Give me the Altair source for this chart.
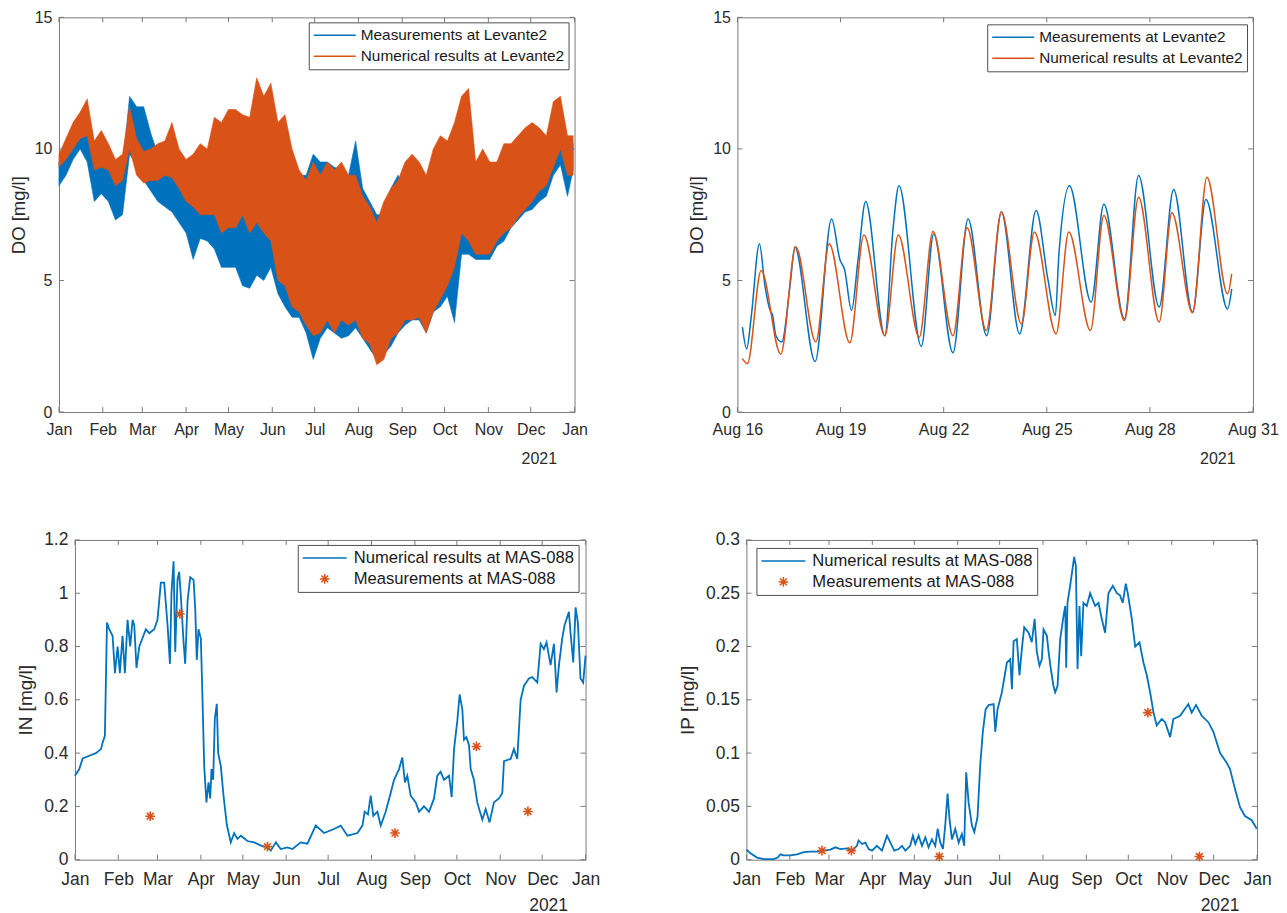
import altair as alt
import pandas as pd

BLUE = "#0072BD"
ORANGE = "#D95319"
FRAME = "#7a7a7a"
TXT = "#2b2b2b"
FONT = "Liberation Sans"

# ---------------- Panel 1: DO over the year (daily envelopes read every 5 days) ----------------
DO_YEAR_DAYS = [0, 5, 10, 15, 20, 25, 30, 35, 40, 45, 50, 55, 60, 65, 70, 75, 80, 85, 90, 95,
                100, 105, 110, 115, 120, 125, 130, 135, 140, 145, 150, 155, 160, 165, 170, 175,
                180, 185, 190, 195, 200, 205, 210, 215, 220, 225, 230, 235, 240, 245, 250, 255,
                260, 265, 270, 275, 280, 285, 290, 295, 300, 305, 310, 315, 320, 325, 330, 335,
                340, 345, 350, 355, 360, 364]
DO_NUM_LO = [9.3, 9.6, 10.0, 10.4, 10.5, 9.2, 9.3, 9.2, 8.6, 8.8, 10.0, 9.0, 8.7, 8.8, 8.8, 9.0,
             8.9, 8.5, 8.0, 7.8, 7.5, 7.5, 7.5, 6.8, 7.0, 7.0, 7.5, 6.8, 7.2, 6.8, 6.5, 5.0, 4.8,
             4.0, 3.8, 3.3, 2.9, 3.0, 3.5, 3.0, 3.5, 3.3, 3.5, 2.8, 2.6, 1.8, 2.0, 2.8, 3.0, 3.5,
             3.5, 3.6, 3.0, 3.8, 4.3, 4.8, 5.5, 6.8, 6.5, 6.0, 6.0, 6.0, 6.5, 6.8, 7.0, 7.4, 7.7,
             8.0, 8.4, 8.6, 9.3, 10.0, 9.0, 9.0]
DO_NUM_HI = [9.8, 10.4, 11.0, 11.4, 11.9, 10.3, 10.7, 10.2, 9.6, 9.8, 11.6, 10.4, 9.9, 10.0, 10.2,
             10.3, 11.0, 10.0, 9.6, 9.8, 10.2, 10.0, 11.2, 11.0, 11.5, 11.5, 11.3, 11.2, 12.7, 12.0,
             12.5, 11.0, 11.3, 10.0, 9.2, 8.8, 9.5, 9.0, 9.5, 9.2, 9.5, 9.0, 9.0, 8.2, 7.8, 7.2,
             8.0, 8.5, 8.8, 9.5, 9.8, 9.5, 9.0, 10.0, 10.5, 10.3, 11.0, 12.0, 12.3, 9.5, 10.0, 9.5,
             9.5, 10.2, 10.2, 10.5, 10.8, 11.0, 10.8, 10.5, 11.8, 12.0, 10.5, 10.5]
DO_MEAS_LO = [8.6, 9.0, 9.6, 10.0, 9.5, 8.0, 8.3, 8.0, 7.3, 7.5, 9.8, 9.4, 8.8, 8.4, 8.0, 7.8, 7.6,
              7.2, 6.8, 5.8, 6.6, 6.5, 6.2, 5.5, 5.5, 5.5, 4.8, 4.7, 5.2, 5.0, 5.5, 4.5, 4.0, 3.6,
              3.6, 3.0, 2.0, 2.8, 3.2, 3.0, 2.8, 2.9, 3.2, 2.8, 2.4, 2.0, 2.2, 2.5, 3.0, 3.3, 3.5,
              3.5, 3.0, 3.8, 4.0, 4.4, 3.4, 6.0, 6.0, 5.8, 5.8, 5.8, 6.3, 6.5, 7.0, 7.3, 7.6, 7.7,
              8.0, 8.2, 9.0, 9.4, 8.2, 9.2]
DO_MEAS_HI = [9.5, 9.8, 10.3, 10.7, 11.0, 9.5, 9.9, 9.6, 8.6, 9.3, 12.0, 11.6, 11.6, 10.6, 9.8,
              10.3, 9.5, 9.0, 8.4, 8.0, 8.2, 8.0, 8.0, 7.5, 7.2, 7.0, 7.5, 7.0, 7.5, 7.5, 7.5, 7.0,
              9.0, 9.0, 9.0, 9.0, 9.8, 9.5, 9.5, 9.3, 9.2, 9.0, 10.3, 8.5, 8.0, 7.5, 7.5, 8.5, 9.0,
              8.5, 9.0, 8.8, 8.0, 8.5, 9.0, 9.0, 9.0, 10.0, 10.3, 8.0, 8.5, 8.0, 8.5, 8.5, 8.5,
              8.5, 9.0, 9.0, 9.0, 9.5, 11.0, 11.3, 9.6, 10.2]

# ---------------- Panel 2: DO, Aug 16 - Aug 30 (day offsets from Aug 16) ----------------
AUG_MEAS_DAYS = [0.145, 0.27, 0.40, 0.64, 0.80, 0.95, 1.02, 1.12, 1.29, 1.53, 1.67, 2.26, 2.74,
                 2.98, 3.12, 3.32, 3.51, 3.73, 4.29, 4.53, 4.70, 5.35, 5.71, 6.27, 6.71, 7.25,
                 7.68, 8.21, 8.69, 9.03, 9.25, 9.35, 9.66, 10.29, 10.66, 11.26, 11.67, 12.27,
                 12.69, 13.24, 13.63, 14.26, 14.38]
AUG_MEAS_DO = [3.23, 2.4, 3.6, 6.4, 4.8, 3.86, 3.7, 2.9, 2.66, 4.8, 6.27, 1.92, 7.34, 5.8, 5.4,
               3.86, 5.8, 8.0, 2.9, 7.0, 8.6, 2.5, 6.77, 2.25, 7.34, 2.9, 7.6, 2.97, 7.66, 5.06,
               3.67, 5.95, 8.6, 4.18, 7.9, 3.54, 8.99, 3.99, 8.46, 3.8, 8.08, 3.92, 4.68]
AUG_NUM_DAYS = [0.145, 0.29, 0.69, 1.26, 1.70, 2.28, 2.67, 3.27, 3.68, 4.29, 4.68, 5.29, 5.69,
                6.27, 6.68, 7.24, 7.68, 8.26, 8.64, 9.27, 9.64, 10.27, 10.66, 11.26, 11.67,
                12.27, 12.64, 13.24, 13.66, 14.26, 14.38]
AUG_NUM_DO = [2.03, 1.84, 5.38, 2.2, 6.27, 2.66, 6.4, 2.63, 6.73, 2.9, 6.73, 2.85, 6.86, 2.9, 7.0,
              3.1, 7.6, 3.35, 6.84, 2.97, 6.84, 3.1, 7.47, 3.48, 8.16, 3.42, 7.57, 3.77, 8.92,
              4.49, 5.25]

# ---------------- Panel 3: IN at MAS-088 ----------------
IN_DAYS = [0.0, 3.1, 5.5, 10.2, 15.0, 18.6, 19.8, 21.4, 22.9, 24.5, 26.9, 28.6, 30.5, 32.1, 34.0,
           35.7, 37.6, 39.5, 41.2, 42.4, 44.0, 46.0, 50.7, 53.1, 56.7, 59.0, 61.4, 63.8, 66.2,
           67.9, 69.0, 70.5, 71.7, 73.3, 74.5, 75.7, 77.6, 78.8, 80.5, 82.4, 84.8, 86.0, 87.1,
           88.3, 90.0, 91.2, 92.4, 94.0, 95.5, 96.7, 97.6, 98.8, 100.0, 101.4, 102.4, 104.3,
           106.2, 108.6, 111.4, 113.8, 116.2, 118.6, 123.3, 128.1, 132.9, 137.6, 140.0, 143.6,
           147.1, 151.9, 155.5, 161.4, 166.2, 172.1, 178.1, 185.2, 190.0, 194.8, 202.0, 205.5,
           207.1, 209.5, 211.4, 213.3, 216.2, 218.6, 222.1, 225.7, 228.1, 231.7, 234.0, 235.9,
           237.6, 240.0, 243.6, 246.0, 249.5, 253.1, 256.7, 259.0, 261.4, 263.8, 267.4, 269.3,
           271.0, 273.3, 275.0, 276.9, 278.1, 279.8, 281.7, 282.9, 285.2, 287.6, 291.2, 293.6,
           296.4, 299.5, 303.1, 305.5, 306.7, 311.4, 313.8, 316.2, 318.6, 321.0, 324.5, 326.9,
           330.5, 332.9, 335.2, 337.1, 340.0, 342.4, 344.3, 346.0, 348.3, 350.0, 353.1, 354.3,
           356.2, 357.9, 359.5, 361.4, 363.3, 365.0]
IN_VALUES = [0.315, 0.34, 0.38, 0.39, 0.40, 0.415, 0.44, 0.465, 0.89, 0.865, 0.84, 0.70, 0.80,
             0.70, 0.84, 0.70, 0.90, 0.80, 0.90, 0.88, 0.72, 0.80, 0.865, 0.85, 0.865, 0.90, 1.04,
             1.04, 0.88, 0.735, 1.0, 1.12, 0.78, 1.05, 1.08, 0.99, 0.82, 0.735, 0.97, 1.06, 1.05,
             0.94, 0.75, 0.865, 0.83, 0.60, 0.35, 0.215, 0.29, 0.23, 0.34, 0.30, 0.53, 0.585,
             0.40, 0.35, 0.24, 0.13, 0.065, 0.10, 0.078, 0.09, 0.07, 0.065, 0.053, 0.046, 0.034,
             0.065, 0.04, 0.046, 0.04, 0.065, 0.06, 0.128, 0.10, 0.115, 0.128, 0.09, 0.10, 0.128,
             0.18, 0.17, 0.24, 0.165, 0.18, 0.128, 0.18, 0.25, 0.30, 0.34, 0.384, 0.29, 0.315,
             0.24, 0.215, 0.18, 0.20, 0.18, 0.23, 0.315, 0.33, 0.30, 0.315, 0.235, 0.415, 0.52,
             0.62, 0.565, 0.45, 0.46, 0.43, 0.34, 0.30, 0.215, 0.15, 0.19, 0.14, 0.215, 0.23,
             0.25, 0.37, 0.378, 0.415, 0.378, 0.60, 0.653, 0.68, 0.685, 0.665, 0.81, 0.79, 0.816,
             0.73, 0.81, 0.628, 0.73, 0.83, 0.88, 0.93, 0.85, 0.74, 0.947, 0.89, 0.68, 0.665,
             0.766]
IN_MEAS_DAYS = [53.8, 75.0, 137.6, 228.8, 287.0, 323.8]
IN_MEAS_VALUES = [0.163, 0.922, 0.049, 0.10, 0.425, 0.181]

# ---------------- Panel 4: IP at MAS-088 ----------------
IP_DAYS = [0.0, 2.9, 7.6, 12.4, 19.5, 22.4, 24.3, 26.7, 31.4, 36.2, 41.0, 45.7, 50.5, 55.2, 60.0,
           63.6, 67.1, 71.9, 75.5, 79.0, 80.2, 82.6, 85.0, 87.4, 89.8, 93.3, 96.9, 100.5, 102.9,
           105.7, 108.8, 111.2, 113.6, 117.1, 119.0, 120.7, 123.1, 125.5, 127.9, 130.2, 132.6,
           135.0, 136.7, 138.6, 140.5, 142.1, 143.8, 145.2, 146.9, 149.3, 151.7, 154.0, 155.7,
           157.1, 158.8, 161.2, 162.9, 165.2, 167.1, 169.0, 171.0, 173.1, 176.7, 177.9, 179.5,
           182.6, 186.2, 188.6, 189.8, 191.0, 193.3, 195.2, 196.9, 198.6, 201.7, 204.0, 206.0,
           207.6, 209.5, 211.2, 212.4, 214.8, 216.0, 217.6, 219.5, 220.7, 222.4, 224.3, 226.7,
           227.9, 228.6, 229.5, 231.4, 234.3, 235.5, 236.7, 238.1, 239.3, 240.9, 243.3, 245.7,
           249.3, 251.7, 254.0, 256.4, 258.8, 261.9, 264.8, 267.1, 269.0, 271.2, 272.6, 275.5,
           277.9, 281.0, 283.8, 286.2, 288.6, 291.0, 293.3, 296.9, 299.3, 302.9, 305.2, 310.0,
           315.9, 318.3, 321.4, 325.5, 330.2, 333.8, 338.6, 343.3, 345.7, 349.3, 352.9, 356.4,
           361.2, 364.8]
IP_VALUES = [0.0094, 0.006, 0.002, 0.0006, 0.0006, 0.002, 0.005, 0.004, 0.004, 0.005, 0.007,
             0.0075, 0.0075, 0.0085, 0.0094, 0.0116, 0.01, 0.0106, 0.0085, 0.013, 0.018, 0.0147,
             0.016, 0.01, 0.0085, 0.013, 0.0085, 0.0225, 0.016, 0.0085, 0.01, 0.013, 0.0085,
             0.013, 0.0225, 0.0147, 0.0225, 0.013, 0.021, 0.0116, 0.019, 0.013, 0.029, 0.016,
             0.01, 0.032, 0.062, 0.038, 0.019, 0.029, 0.016, 0.024, 0.013, 0.082, 0.054, 0.032,
             0.026, 0.040, 0.088, 0.12, 0.141, 0.145, 0.146, 0.12, 0.141, 0.157, 0.185, 0.188,
             0.16, 0.205, 0.207, 0.173, 0.198, 0.218, 0.213, 0.204, 0.226, 0.195, 0.182, 0.188,
             0.216, 0.21, 0.195, 0.179, 0.163, 0.157, 0.163, 0.207, 0.229, 0.238, 0.18, 0.241,
             0.257, 0.284, 0.276, 0.179, 0.238, 0.191, 0.241, 0.238, 0.25, 0.238, 0.241, 0.226,
             0.213, 0.25, 0.257, 0.25, 0.248, 0.241, 0.259, 0.25, 0.226, 0.20, 0.204, 0.185,
             0.173, 0.157, 0.138, 0.126, 0.132, 0.129, 0.115, 0.132, 0.135, 0.146, 0.138, 0.145,
             0.135, 0.129, 0.12, 0.10, 0.091, 0.085, 0.066, 0.049, 0.041, 0.037, 0.029]
IP_MEAS_DAYS = [54.0, 75.0, 137.9, 287.0, 323.8]
IP_MEAS_VALUES = [0.0085, 0.0085, 0.003, 0.138, 0.003]

# ---------------- tick labels ----------------
MONTH_TICKS = ["2021-01-01", "2021-02-01", "2021-03-01", "2021-04-01", "2021-05-01", "2021-06-01",
               "2021-07-01", "2021-08-01", "2021-09-01", "2021-10-01", "2021-11-01", "2021-12-01",
               "2022-01-01"]
AUG_TICKS = ["2021-08-16", "2021-08-19", "2021-08-22", "2021-08-25", "2021-08-28", "2021-08-31"]
DO_TICKS = [0, 5, 10, 15]
IN_TICKS = [0, 0.2, 0.4, 0.6, 0.8, 1.0, 1.2]
IP_TICKS = [0, 0.05, 0.1, 0.15, 0.2, 0.25, 0.3]

LEV_M = "Measurements at Levante2"
LEV_N = "Numerical results at Levante2"
MAS_N = "Numerical results at MAS-088"
MAS_M = "Measurements at MAS-088"


def to_ms(base, days):
    b = pd.Timestamp(base, tz="UTC")
    return [int((b + pd.Timedelta(days=float(d))).value // 1_000_000) for d in days]


def date_ms(dates):
    return [int(pd.Timestamp(d, tz="UTC").value // 1_000_000) for d in dates]


YEAR_TICKS_MS = date_ms(MONTH_TICKS)
AUG_TICKS_MS = date_ms(AUG_TICKS)

STAR = ("M-0.22,0L0.22,0M0,-0.22L0,0.22M-0.156,-0.156L0.156,0.156"
        "M-0.156,0.156L0.156,-0.156")


def x_axis(vals, fmt, fs, w, pad, ty):
    return alt.Axis(values=vals, labelExpr="utcFormat(datum.value, '%s')" % fmt,
                    labelFont=FONT, labelFontSize=fs,
                    labelColor=TXT, labelPadding=pad, labelFlush=False, labelOverlap=False,
                    domain=False, ticks=False, tickSize=0, grid=False,
                    title="2021", titleFont=FONT, titleFontSize=fs, titleFontWeight="normal",
                    titleColor=TXT, titleX=w - 18, titleY=ty, titleAlign="right",
                    titleBaseline="alphabetic", titleAngle=0)


def y_axis(vals, title, fs, tfs, tpad):
    return alt.Axis(values=vals, format="~g", labelFont=FONT, labelFontSize=fs, labelColor=TXT,
                    labelPadding=7, domain=False, ticks=False, tickSize=0, grid=False,
                    title=title, titleFont=FONT, titleFontSize=tfs, titleFontWeight="normal",
                    titleColor=TXT, titlePadding=tpad)


def legend(x, y, fs, size, offset, stype=None):
    kw = dict(title=None, orient="none", legendX=x, legendY=y, fillColor="white",
              strokeColor="#4d4d4d", padding=4, cornerRadius=0,
              symbolSize=size, symbolStrokeWidth=1.5, labelFont=FONT, labelFontSize=fs,
              labelColor="#1a1a1a", labelOffset=offset, rowPadding=3, clipHeight=18,
              labelLimit=600)
    if stype:
        kw["symbolType"] = stype
    return alt.Legend(**kw)


def tick_layers(xvals, yvals, X_enc, Y_enc, w, h, L=5):
    xdf = pd.DataFrame({"t": xvals})
    ydf = pd.DataFrame({"v": yvals})
    rx = alt.Chart(xdf).mark_rule(color=FRAME, strokeWidth=1)
    ry = alt.Chart(ydf).mark_rule(color=FRAME, strokeWidth=1)
    return [
        rx.encode(x=X_enc("t:T"), y=alt.value(h - L), y2=alt.value(h)),
        rx.encode(x=X_enc("t:T"), y=alt.value(0), y2=alt.value(L)),
        ry.encode(y=Y_enc("v:Q"), x=alt.value(0), x2=alt.value(L)),
        ry.encode(y=Y_enc("v:Q"), x=alt.value(w - L), x2=alt.value(w)),
    ]


# ---------------- sizes ----------------
WT, HT = 516, 395
WB, HB = 511, 320

year_scale = alt.Scale(type="utc", domain=[YEAR_TICKS_MS[0], YEAR_TICKS_MS[-1]])
aug_scale = alt.Scale(type="utc", domain=[AUG_TICKS_MS[0], AUG_TICKS_MS[-1]])
do_scale = alt.Scale(domain=[0, 15], nice=False, zero=False)
in_scale = alt.Scale(domain=[0, 1.2], nice=False, zero=False)
ip_scale = alt.Scale(domain=[0, 0.3], nice=False, zero=False)

lev_colors = alt.Scale(domain=[LEV_M, LEV_N], range=[BLUE, ORANGE])
mas_colors = alt.Scale(domain=[MAS_N, MAS_M], range=[BLUE, ORANGE])
mas_shapes = alt.Scale(domain=[MAS_N, MAS_M], range=["stroke", STAR])

# ---------------- Panel 1 ----------------
t_year = to_ms("2021-01-01", DO_YEAR_DAYS)
p1_meas = pd.DataFrame({"t": t_year, "lo": DO_MEAS_LO, "hi": DO_MEAS_HI, "s": LEV_M})
p1_num = pd.DataFrame({"t": t_year, "lo": DO_NUM_LO, "hi": DO_NUM_HI, "s": LEV_N})
x1 = x_axis(YEAR_TICKS_MS, "%b", 16, WT, 9, 52)
y1 = y_axis(DO_TICKS, "DO [mg/l]", 16, 18.5, 6)
leg1 = legend(250, 5, 15.4, 1764, 4, "stroke")
X1 = lambda f: alt.X(f, scale=year_scale, axis=x1)
Y1 = lambda f: alt.Y(f, scale=do_scale, axis=y1)


def p1_layer(df, fillcol):
    return alt.Chart(df).mark_area(strokeWidth=0.6, fill=fillcol, fillOpacity=1).encode(
        x=X1("t:T"),
        y=Y1("lo:Q"),
        y2="hi:Q",
        stroke=alt.Stroke("s:N", scale=lev_colors, legend=leg1),
    )


panel1 = alt.layer(p1_layer(p1_meas, BLUE), p1_layer(p1_num, ORANGE),
                   *tick_layers(YEAR_TICKS_MS, DO_TICKS, X1, Y1, WT, HT)
                   ).properties(width=WT, height=HT)

# ---------------- Panel 2 ----------------
p2_meas = pd.DataFrame({"t": to_ms("2021-08-16", AUG_MEAS_DAYS), "v": AUG_MEAS_DO, "s": LEV_M})
p2_num = pd.DataFrame({"t": to_ms("2021-08-16", AUG_NUM_DAYS), "v": AUG_NUM_DO, "s": LEV_N})
x2 = x_axis(AUG_TICKS_MS, "%b %d", 16, WT, 9, 52)
y2 = y_axis(DO_TICKS, "DO [mg/l]", 16, 18.5, 6)
leg2 = legend(250, 7, 15.4, 1764, 4, "stroke")
X2 = lambda f: alt.X(f, scale=aug_scale, axis=x2)
Y2 = lambda f: alt.Y(f, scale=do_scale, axis=y2)


def p2_layer(df):
    return alt.Chart(df).mark_line(strokeWidth=1.5, interpolate="monotone").encode(
        x=X2("t:T"),
        y=Y2("v:Q"),
        color=alt.Color("s:N", scale=lev_colors, legend=leg2),
    )


panel2 = alt.layer(p2_layer(p2_meas), p2_layer(p2_num),
                   *tick_layers(AUG_TICKS_MS, DO_TICKS, X2, Y2, WT, HT)
                   ).properties(width=WT, height=HT)


# ---------------- Panels 3 and 4 ----------------
def mas_panel(days, vals, mdays, mvals, ticks, yscale, ytitle, lx, ly):
    line_df = pd.DataFrame({"t": to_ms("2021-01-01", days), "v": vals, "s": MAS_N})
    pts_df = pd.DataFrame({"t": to_ms("2021-01-01", mdays), "v": mvals, "s": MAS_M})
    xa = x_axis(YEAR_TICKS_MS, "%b", 17.5, WB, 11, 51)
    ya = y_axis(ticks, ytitle, 17.5, 19, 8)
    lg = legend(lx, ly, 16.6, 1936, 6)
    XE = lambda f: alt.X(f, scale=year_scale, axis=xa)
    YE = lambda f: alt.Y(f, scale=yscale, axis=ya)
    line = alt.Chart(line_df).mark_line(strokeWidth=1.8).encode(
        x=XE("t:T"),
        y=YE("v:Q"),
        color=alt.Color("s:N", scale=mas_colors, legend=lg),
    )
    pts = alt.Chart(pts_df).mark_point(filled=False, strokeWidth=1.6, size=1936, opacity=1).encode(
        x=XE("t:T"),
        y=YE("v:Q"),
        color=alt.Color("s:N", scale=mas_colors, legend=lg),
        shape=alt.Shape("s:N", scale=mas_shapes, legend=lg),
    )
    return alt.layer(line, pts, *tick_layers(YEAR_TICKS_MS, ticks, XE, YE, WB, HB)
                     ).properties(width=WB, height=HB)


panel3 = mas_panel(IN_DAYS, IN_VALUES, IN_MEAS_DAYS, IN_MEAS_VALUES, IN_TICKS, in_scale,
                   "IN [mg/l]", 223, 5)
panel4 = mas_panel(IP_DAYS, IP_VALUES, IP_MEAS_DAYS, IP_MEAS_VALUES, IP_TICKS, ip_scale,
                   "IP [mg/l]", 10, 8)

spacer = alt.Chart(pd.DataFrame({"v": [0]})).mark_text(text="").encode(
    x=alt.value(0), y=alt.value(0)
).properties(width=1, height=HB, view=alt.ViewBackground(stroke="transparent"))

RES = dict(color="independent", stroke="independent", shape="independent")

top = alt.hconcat(panel1, panel2, spacing=163, bounds="flush").resolve_scale(**RES)
bottom_inner = alt.hconcat(panel3, panel4, spacing=161, bounds="flush").resolve_scale(**RES)
bottom = alt.hconcat(spacer, bottom_inner, spacing=15, bounds="flush").resolve_scale(**RES)

chart = alt.vconcat(top, bottom, spacing=62).resolve_scale(**RES).properties(
    padding=0, background="white"
).configure_view(stroke=FRAME, strokeWidth=1)

chart.save("out.html", embed_options={"renderer": "svg", "actions": False})
